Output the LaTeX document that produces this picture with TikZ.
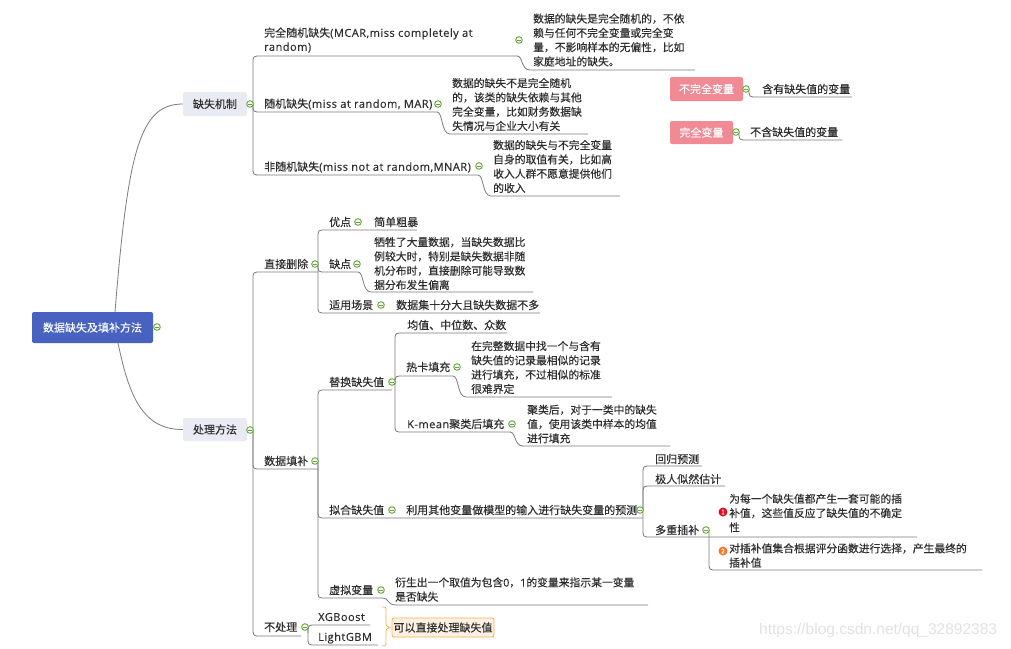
\documentclass[tikz,border=0pt]{standalone}
\usepackage{fontspec}
\setmainfont{Noto Sans CJK SC}[FakeBold=0.25]
\newfontfamily\latf{Open Sans}[FakeBold=0.25,LetterSpace=4.5]
\newcommand\lat[1]{{\latf #1}}
\newfontfamily\wmfont{Liberation Sans}
\usetikzlibrary{calc}
\definecolor{ink}{HTML}{2E2E2E}
\definecolor{lnc}{HTML}{7C7C7C}
\definecolor{rootc}{HTML}{4763BF}
\definecolor{topc}{HTML}{E9EAF3}
\definecolor{pinkc}{HTML}{F08A94}
\definecolor{mkg}{HTML}{62A836}
\definecolor{ofill}{HTML}{FEF1E3}
\definecolor{oline}{HTML}{F5B04C}
\definecolor{redb}{HTML}{DD1122}
\definecolor{orab}{HTML}{EF7B2A}
\definecolor{wmc}{HTML}{E2E2E2}
\tikzset{
  lbl/.style={anchor=west, inner sep=0pt, text=ink, align=left, font=\fontsize{11}{14}\selectfont},
  dsc/.style={anchor=west, inner sep=0pt, text=ink, align=left, font=\fontsize{10.8}{14.3}\selectfont},
  ln/.style={draw=lnc, line width=0.8pt},
  mk/.style={circle, draw=mkg, fill=white, line width=0.9pt, inner sep=0pt, minimum size=6.6pt,
    path picture={\draw[mkg, line width=1pt] ($(path picture bounding box.west)+(1.6pt,0)$) -- ($(path picture bounding box.east)+(-1.6pt,0)$);}},
  topic/.style={fill=topc, rounded corners=2pt, text=ink, inner sep=0pt, font=\fontsize{11}{14}\selectfont},
  rootbox/.style={fill=rootc, rounded corners=2pt, text=white, inner sep=0pt, minimum width=121pt, minimum height=31pt, font=\fontsize{11}{14}\selectfont},
  pinkbox/.style={fill=pinkc, rounded corners=2pt, text=white, inner sep=0pt, font=\fontsize{11}{14}\selectfont},
  obox/.style={fill=ofill, draw=oline, line width=0.8pt, rounded corners=2pt, text=ink, inner sep=0pt, minimum width=102pt, minimum height=19pt, font=\fontsize{11}{14}\selectfont},
  numb/.style={circle, inner sep=0pt, minimum size=9pt, text=white, font=\fontsize{6.5}{6.5}\selectfont},
}
\newcommand\brn[2]{\draw[ln] let \p1=(#1), \p2=(#2) in
  (\x1+3pt,\y1) -- (\x1+3pt,{\y2-8pt*sign(\y2-(\y1))}) .. controls (\x1+3pt,\y2) .. (\x1+11pt,\y2) -- (\x2,\y2);}
\newcommand\stp[2]{\draw[ln] let \p1=(#1), \p2=(#2) in
  (\x1,\y1) .. controls (\x1+6pt,\y1) and (\x1+4pt,\y2) .. (\x1+13pt,\y2) -- (\x2,\y2);}
\begin{document}
\begin{tikzpicture}[x=1pt,y=-1pt]
\useasboundingbox (0,0) rectangle (1011,648);
\fill[white] (0,0) rectangle (1011,648);

% ---------- boxes ----------
\node[rootbox] (R) at (92.5,327.5) {数据缺失及填补方法};
\node[topic, minimum width=64pt, minimum height=24pt] (T1) at (215,104) {缺失机制};
\node[topic, minimum width=64pt, minimum height=23pt] (T2) at (215,429.5) {处理方法};
\node[pinkbox, minimum width=73pt, minimum height=24pt] (P1) at (706.5,89) {不完全变量};
\node[pinkbox, minimum width=63pt, minimum height=23pt] (P2) at (701.5,132.5) {完全变量};
\node[obox] (O) at (443,627.5) {可以直接处理缺失值};

% ---------- marker positions ----------
\coordinate (mR) at (157,327);
\coordinate (mT1) at (250,104);
\coordinate (mT2) at (250,430);
\coordinate (mA1) at (519,40);
\coordinate (mA2) at (438,104);
\coordinate (mA3) at (479,166);
\coordinate (mB1) at (315,264);
\coordinate (mB2) at (315,461);
\coordinate (mB3) at (305,627);
\coordinate (mC1) at (358,222);
\coordinate (mC2) at (357,264);
\coordinate (mC3) at (381,305);
\coordinate (mD1) at (392,382);
\coordinate (mD2) at (392,510);
\coordinate (mD3) at (381,590);
\coordinate (mE2) at (457,367);
\coordinate (mE3) at (512,424);
\coordinate (mF) at (640,510);
\coordinate (mF3) at (706,530);
\coordinate (mP1) at (746,89);
\coordinate (mP2) at (736,132);

% ---------- underline end points ----------
\coordinate (a1e) at (517,56);  \coordinate (a1d) at (695,70);
\coordinate (a2e) at (437,112); \coordinate (a2d) at (588,134);
\coordinate (a3e) at (478,175); \coordinate (a3d) at (620,196);
\coordinate (b1e) at (318,272);
\coordinate (b2e) at (318,469);
\coordinate (b3e) at (301,636);
\coordinate (c1e) at (417,230);
\coordinate (c2e) at (358,272); \coordinate (c2d) at (533,292);
\coordinate (c3e) at (540,313);
\coordinate (d1e) at (392,390);
\coordinate (d2e) at (643,518);
\coordinate (d3e) at (383,598); \coordinate (d3d) at (648,605);
\coordinate (e1e) at (507,333);
\coordinate (e2e) at (453,376); \coordinate (e2d) at (612,397);
\coordinate (e3e) at (510,432); \coordinate (e3d) at (670,446);
\coordinate (f1e) at (702,466);
\coordinate (f2e) at (725,486);
\coordinate (f3e) at (917,537);
\coordinate (g2e) at (982,570);
\coordinate (h1e) at (370,625);
\coordinate (h2e) at (378,645);
\coordinate (p1e) at (852,97);
\coordinate (p2e) at (842,140);
\coordinate (r1) at (115,312);
\coordinate (r2) at (118,343);

% ---------- root connectors ----------
\draw[ln] (r1) .. controls (128,150) and (140,104) .. (T1.west);
\draw[ln] (r2) .. controls (128,390) and (140,430) .. (T2.west);

% ---------- branch connectors ----------
\brn{mT1}{a1e} \stp{a1e}{a1d}
\brn{mT1}{a2e} \stp{a2e}{a2d}
\brn{mT1}{a3e} \stp{a3e}{a3d}
\brn{mT2}{b1e}
\brn{mT2}{b2e}
\brn{mT2}{b3e}
\brn{mB1}{c1e}
\brn{mB1}{c2e} \stp{c2e}{c2d}
\brn{mB1}{c3e}
\brn{mB2}{d1e}
\brn{mB2}{d2e}
\brn{mB2}{d3e} \stp{d3e}{d3d}
\brn{mD1}{e1e}
\brn{mD1}{e2e} \stp{e2e}{e2d}
\brn{mD1}{e3e} \stp{e3e}{e3d}
\brn{mF}{f1e}
\brn{mF}{f2e}
\brn{mF}{f3e}
\brn{mF3}{g2e}
\brn{mB3}{h1e}
\brn{mB3}{h2e}
\brn{mP1}{p1e}
\brn{mP2}{p2e}

% brace
\draw[draw=oline, line width=0.8pt] (382,607) .. controls (386,607) .. (386,612) -- (386,622) .. controls (386,626) .. (390,627.5)
  .. controls (386,629) .. (386,633) -- (386,641) .. controls (386,646) .. (382,646);

% ---------- texts ----------
\node[lbl] (A1) at (264,40) {完全随机缺失\lat{(MCAR,miss completely at}\\\lat{random)}};
\node[dsc] (A1d) at (533,40) {数据的缺失是完全随机的，不依\\赖与任何不完全变量或完全变\\量，不影响样本的无偏性，比如\\家庭地址的缺失。};
\node[lbl] (A2) at (264,104) {随机缺失\lat{(miss at random, MAR)}};
\node[dsc] (A2d) at (452,104.5) {数据的缺失不是完全随机\\的，该类的缺失依赖与其他\\完全变量，比如财务数据缺\\失情况与企业大小有关};
\node[lbl] (A3) at (264,167) {非随机缺失\lat{(miss not at random,MNAR)}};
\node[dsc] (A3d) at (493,166.5) {数据的缺失与不完全变量\\自身的取值有关，比如高\\收入人群不愿意提供他们\\的收入};
\node[lbl] (P1t) at (762,89) {含有缺失值的变量};
\node[lbl] (P2t) at (750,132) {不含缺失值的变量};

\node[lbl] (B1) at (264,264) {直接删除};
\node[lbl] (B2) at (264,461) {数据填补};
\node[lbl] (B3) at (264,627) {不处理};

\node[lbl] (C1) at (329,222) {优点};
\node[lbl] (C1v) at (374,222) {简单粗暴};
\node[lbl] (C2) at (329,264) {缺点};
\node[dsc] (C2d) at (374,263.5) {牺牲了大量数据，当缺失数据比\\例较大时，特别是缺失数据非随\\机分布时，直接删除可能导致数\\据分布发生偏离};
\node[lbl] (C3) at (329,305) {适用场景};
\node[lbl] (C3v) at (396,305) {数据集十分大且缺失数据不多};

\node[lbl] (D1) at (329,382) {替换缺失值};
\node[lbl] (D2) at (329,510) {拟合缺失值};
\node[lbl] (D2v) at (406,510) {利用其他变量做模型的输入进行缺失变量的预测};
\node[lbl] (D3) at (329,590) {虚拟变量};
\node[dsc] (D3d) at (395,589.5) {衍生出一个取值为包含\lat{0}，\lat{1}的变量来指示某一变量\\是否缺失};

\node[lbl] (E1) at (407,325) {均值、中位数、众数};
\node[lbl] (E2) at (406,367) {热卡填充};
\node[dsc] (E2d) at (471,367.5) {在完整数据中找一个与含有\\缺失值的记录最相似的记录\\进行填充，不过相似的标准\\很难界定};
\node[lbl] (E3) at (407,424) {\lat{K-mean}聚类后填充};
\node[dsc] (E3d) at (527,424) {聚类后，对于一类中的缺失\\值，使用该类中样本的均值\\进行填充};

\node[lbl] (F1) at (655,459) {回归预测};
\node[lbl] (F2) at (655,479) {极人似然估计};
\node[lbl] (F3) at (655,530) {多重插补};
\node[dsc] (G1d) at (729,513) {为每一个缺失值都产生一套可能的插\\补值，这些值反应了缺失值的不确定\\性};
\node[dsc] (G2d) at (729,555.5) {对插补值集合根据评分函数进行选择，产生最终的\\插补值};
\node[numb, fill=redb] (n1) at (723,512) {1};
\node[numb, fill=orab] (n2) at (723,551) {2};

\node[lbl] (H1) at (318,617) {\lat{XGBoost}};
\node[lbl] (H2) at (318,638) {\lat{LightGBM}};

\node[anchor=west, inner sep=0pt, text=wmc, font=\wmfont\fontsize{15.5}{18}\selectfont] (wm) at (759,630) {https://blog.csdn.net/qq\_32892383};

% ---------- markers ----------
\foreach \m in {R,T1,T2,A1,A2,A3,B1,B2,B3,C1,C2,C3,D1,D2,D3,E2,E3,F,F3,P1,P2}
  \node[mk] (k\m) at (m\m) {};
\end{tikzpicture}
\end{document}
